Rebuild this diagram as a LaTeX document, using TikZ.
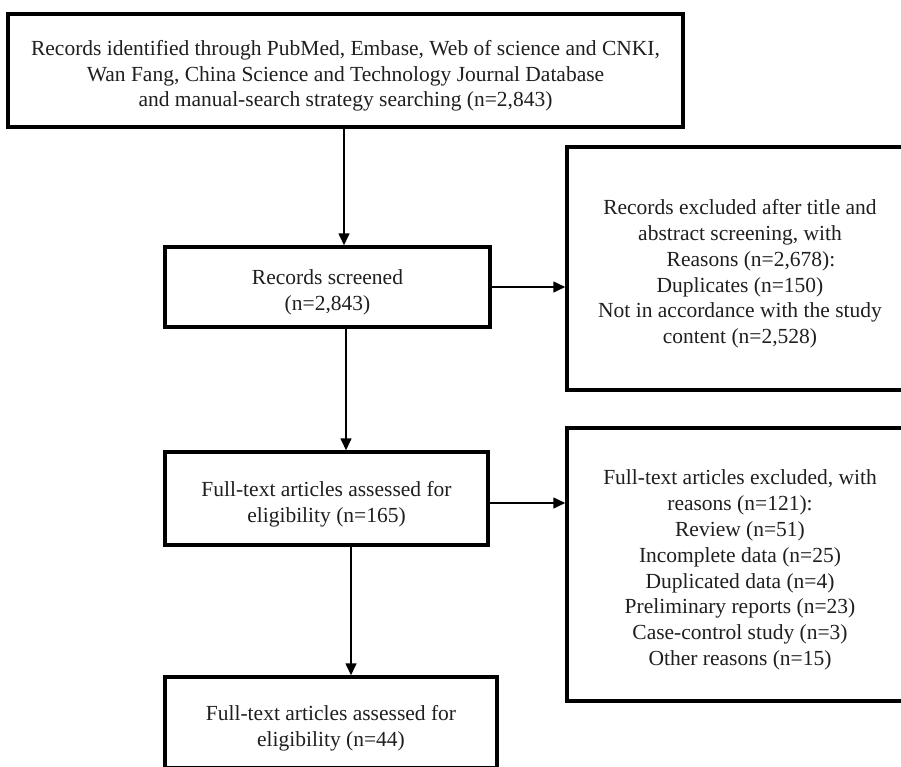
\documentclass[tikz,border=0pt]{standalone}
\usepackage{fontspec}
\setmainfont{Liberation Serif}
\usetikzlibrary{arrows.meta}
\newcommand{\tshift}{\rule{0pt}{26pt}}
\begin{document}
\begin{tikzpicture}[x=1pt,y=-1pt,
  box/.style={draw=black, line width=3.5pt, rectangle, inner sep=0pt, align=center,
    font=\fontsize{21.5}{25.8}\selectfont, text=black!88},
  arr/.style={line width=1.6pt, -{Triangle[length=12pt,width=11pt]}}]
\useasboundingbox (0,0) rectangle (901,766);
\clip (0,0) rectangle (901,766);
\fill[white] (0,0) rectangle (901,766);
\node[box, minimum width=675pt, minimum height=113pt] (b1) at (345.5,70.5)
  {\tshift Records identified through PubMed, Embase, Web of science and CNKI,\\
   Wan Fang, China Science and Technology Journal Database\\
   and manual-search strategy searching (n=2,843)};
\node[box, minimum width=325pt, minimum height=80pt] (b2) at (327.5,287)
  {\tshift Records screened\\(n=2,843)};
\node[box, minimum width=323pt, minimum height=93pt] (b3) at (326.5,498.5)
  {\tshift Full-text articles assessed for\\eligibility (n=165)};
\node[box, minimum width=332pt, minimum height=91pt] (b4) at (331,722.5)
  {\tshift Full-text articles assessed for\\eligibility (n=44)};
\node[box, minimum width=346pt, minimum height=243pt] (r1) at (740,268.5)
  {\tshift Records excluded after title and\\
   abstract screening, with\\
   \hspace*{22pt}Reasons (n=2,678):\\
   Duplicates (n=150)\\
   Not in accordance with the study\\
   content (n=2,528)};
\node[box, minimum width=346pt, minimum height=273pt] (r2) at (740,564.5)
  {\tshift Full-text articles excluded, with\\
   reasons (n=121):\\
   Review (n=51)\\
   Incomplete data (n=25)\\
   Duplicated data (n=4)\\
   Preliminary reports (n=23)\\
   Case-control study (n=3)\\
   Other reasons (n=15)};
\draw[arr] ([xshift=-1.5pt]b1.south) -- ([xshift=-1.5pt]b1.south |- b2.north);
\draw[arr] ([xshift=18.5pt]b2.south) -- ([xshift=18.5pt]b2.south |- b3.north);
\draw[arr] ([xshift=24.5pt]b3.south) -- ([xshift=24.5pt]b3.south |- b4.north);
\draw[arr] (b2.east) -- (b2.east -| r1.west);
\draw[arr] ([yshift=-4.5pt]b3.east) -- ([yshift=-4.5pt]b3.east -| r2.west);
\end{tikzpicture}
\end{document}
